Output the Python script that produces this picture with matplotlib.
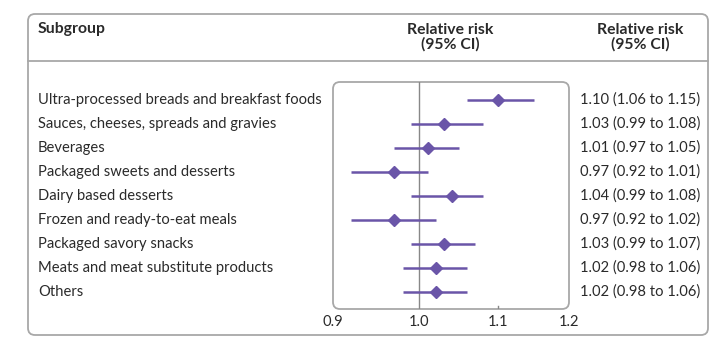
import matplotlib
matplotlib.use("Agg")
import matplotlib.pyplot as plt
from matplotlib.patches import FancyBboxPatch
from matplotlib.transforms import blended_transform_factory

# forest plot: relative risk by food subgroup

subgroups = [
    "Ultra-processed breads and breakfast foods",
    "Sauces, cheeses, spreads and gravies",
    "Beverages",
    "Packaged sweets and desserts",
    "Dairy based desserts",
    "Frozen and ready-to-eat meals",
    "Packaged savory snacks",
    "Meats and meat substitute products",
    "Others",
]
rr = [1.10, 1.03, 1.01, 0.97, 1.04, 0.97, 1.03, 1.02, 1.02]
ci_low = [1.06, 0.99, 0.97, 0.92, 0.99, 0.92, 0.99, 0.98, 0.98]
ci_high = [1.15, 1.08, 1.05, 1.01, 1.08, 1.02, 1.07, 1.06, 1.06]
xticks = [0.9, 1.0, 1.1, 1.2]

W, H = 726, 344
purple = "#6a55a8"
txt = "#2a2a2a"
frame = "#a8a8a8"
plt.rcParams['font.family'] = ['Lato', 'DejaVu Sans']
fs = 10.6
hfs = 11.3

fig = plt.figure(figsize=(W / 100, H / 100), dpi=100)

# overlay in pixel coords for frames
bg = fig.add_axes([0, 0, 1, 1], zorder=0)
bg.set_xlim(0, W)
bg.set_ylim(H, 0)
bg.axis("off")
bg.add_patch(FancyBboxPatch((28, 14), 680, 321, boxstyle="round,pad=0,rounding_size=7",
                            fc="white", ec=frame, lw=1.3))
bg.plot([28, 708], [61, 61], color=frame, lw=1.3)
bg.add_patch(FancyBboxPatch((333, 82), 236, 227, boxstyle="round,pad=0,rounding_size=7",
                            fc="none", ec=frame, lw=1.3, zorder=3))

bg.text(38, 29, "Subgroup", fontsize=hfs, fontweight="bold", color=txt, va="center")
bg.text(450, 37, "Relative risk\n(95% CI)", fontsize=hfs, fontweight="bold", color=txt,
        va="center", ha="center", linespacing=1.0)
bg.text(640, 37, "Relative risk\n(95% CI)", fontsize=hfs, fontweight="bold", color=txt,
        va="center", ha="center", linespacing=1.0)

ax = fig.add_axes([333 / W, (H - 309) / H, 236 / W, 227 / H], zorder=2)
ax.patch.set_alpha(0)
ax.set_xscale("log")
ax.set_xlim(0.9, 1.2)
n = len(subgroups)
ax.set_ylim(n - 1 + 17 / 24, -18 / 24)
for s in ax.spines.values():
    s.set_visible(False)
ax.set_yticks([])
ax.set_xticks(xticks)
ax.set_xticks([], minor=True)
ax.set_xticklabels([f"{v:.1f}" for v in xticks], fontsize=fs, color=txt)
ax.tick_params(axis="x", length=0, pad=4)

ax.axvline(1.0, color="#888888", lw=1.0, zorder=1)
ax.axvline(1.1, ymin=0, ymax=0.015, color="#888888", lw=1.0)

ys = list(range(n))
ax.hlines(ys, ci_low, ci_high, color=purple, lw=1.8, zorder=2)
ax.plot(rr, ys, "D", color=purple, ms=6, zorder=3, clip_on=False)

tr = blended_transform_factory(fig.transFigure, ax.transData)
for i in range(n):
    ax.text(38 / W, i, subgroups[i], transform=tr, fontsize=fs, color=txt, va="center")
    ax.text(580 / W, i, f"{rr[i]:.2f} ({ci_low[i]:.2f} to {ci_high[i]:.2f})",
            transform=tr, fontsize=fs, color=txt, va="center")

fig.savefig("out.png", dpi=100)
